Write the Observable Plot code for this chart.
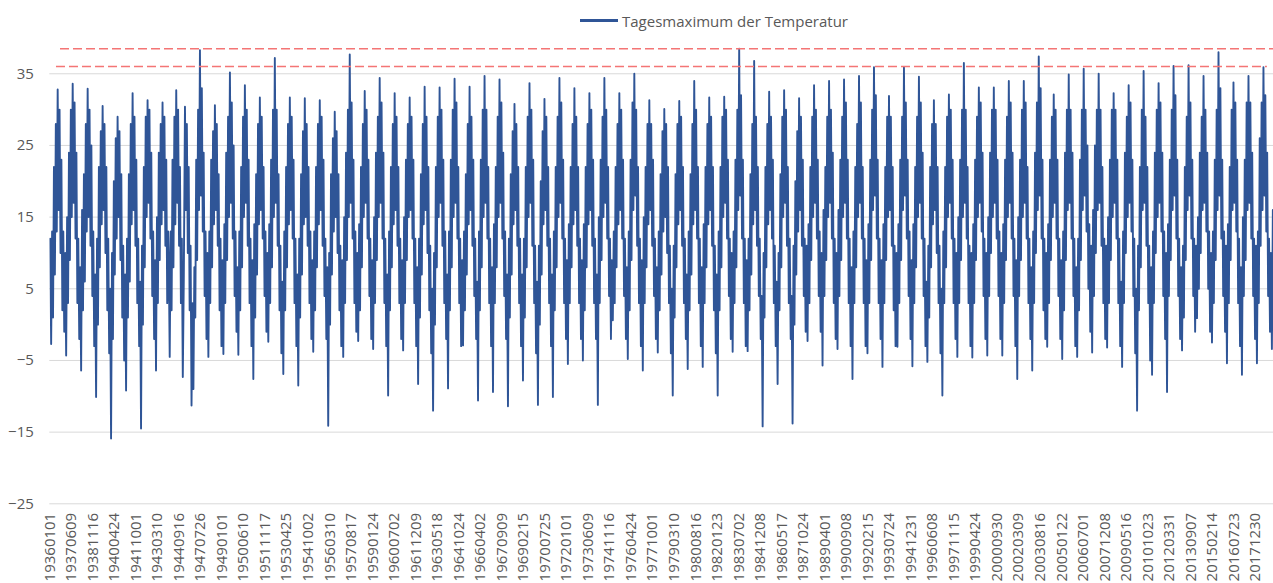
<!DOCTYPE html>
<html>
<head>
<meta charset="utf-8">
<script src="https://cdn.jsdelivr.net/npm/d3@7"></script>
<script src="https://cdn.jsdelivr.net/npm/@observablehq/plot@0.6"></script>
<style>
  html, body { margin: 0; padding: 0; background: #fff; }
  #legend { height: 41px; display: flex; align-items: center; padding-left: 580px; box-sizing: border-box;
            font-family: "Open Sans", sans-serif; font-size: 15px; color: #595959; }
  #legend .sw { display: inline-block; width: 38px; height: 3px; background: #2f5597; margin-right: 4px; }
</style>
</head>
<body>
<div id="legend"><span class="sw"></span><span>Tagesmaximum der Temperatur</span></div>
<div id="chart"></div>
<script>
// Category tick labels (every 525th day of the series)
const tickLabels = ["19360101","19370609","19381116","19400424","19411001","19430310","19440916","19470726","19490101","19500610","19511117","19530425","19541002","19560310","19570817","19590124","19600702","19611209","19630518","19641024","19660402","19670909","19690215","19700725","19720101","19730609","19741116","19760424","19771001","19790310","19800816","19820123","19830702","19841208","19860517","19871024","19890401","19900908","19920215","19930724","19941231","19960608","19971115","19990424","20000930","20020309","20030816","20050122","20060701","20071208","20090516","20101023","20120331","20130907","20150214","20160723","20171230"];
const tickStep = 525;
const yTicks = [-25, -15, -5, 5, 15, 25, 35];

// Day-of-year offsets of the readings taken from each year
const seasonDays = [10, 33, 56, 79, 101, 124, 147, 170, 192, 215, 238, 261, 283, 306, 329, 352];

const years = [1936,1937,1938,1939,1940,1941,1942,1943,1944,1945,1946,1947,1948,1949,1950,1951,1952,1953,1954,1955,1956,1957,1958,1959,1960,1961,1962,1963,1964,1965,1966,1967,1968,1969,1970,1971,1972,1973,1974,1975,1976,1977,1978,1979,1980,1981,1982,1983,1984,1985,1986,1987,1988,1989,1990,1991,1992,1993,1994,1995,1996,1997,1998,1999,2000,2001,2002,2003,2004,2005,2006,2007,2008,2009,2010,2011,2012,2013,2014,2015,2016,2017,2018,2019];

// Daily maximum temperature readings (°C); null = no data
const N = null;
const readings = [
  [12,-2.7,13,1,22,7,28,13,32.8,16,30,10,23,2,13,-1],
  [10,-4.3,15,3,24,9,30,15,33.6,17,31,12,24,3,12,-2],
  [8,-6.4,16,2,21,6,28,13,32.9,15,30,11,25,4,13,-3],
  [7,-10.1,12,0,22,8,27,14,30.5,16,28,10,22,2,12,-4],
  [5,-15.9,10,-2,20,7,26,12,29.0,15,27,9,21,1,11,-5],
  [7,-9.2,12,1,21,6,28,14,32.3,16,29,11,23,3,12,-3],
  [6,-14.5,11,0,22,8,29,15,31.3,17,30,12,24,4,13,-2],
  [9,-6.4,15,3,24,9,28,14,31.0,16,29,11,23,3,13,N],
  [9,-4.5,13,2,23,8,29,14,32.7,17,30,11,22,3,12,-7.3],
  [6,N,N,N,N,N,N,N,N,N,N,N,N,N,N,N],
  [N,N,N,N,N,N,N,N,30.4,16,28,10,22,2,11,-11.3],
  [3,-9.0,8,1,23,9,30,16,38.3,18,33,13,24,4,13,-2],
  [10,-4.5,13,3,23,8,27,14,30.6,16,28,11,21,2,12,-3],
  [9,-4.1,14,3,24,9,29,15,35.2,17,31,12,25,4,13,-1],
  [8,-4.2,13,2,22,8,29,15,33.4,17,30,11,23,3,12,-3],
  [9,-7.6,14,1,21,7,28,14,31.7,16,29,12,22,4,13,-1],
  [10,-2.4,14,3,23,8,30,15,37.2,17,30,11,21,2,11,-4],
  [6,-6.9,13,2,22,8,28,14,31.7,16,29,12,23,3,12,-3],
  [7,-8.5,12,1,21,7,27,14,31.6,15,28,11,22,3,13,-2],
  [9,-3.8,13,2,22,8,28,14,31.3,16,29,11,23,4,12,-2],
  [8,-14.1,10,0,21,7,26,13,29.7,15,27,10,21,2,11,-3],
  [9,-4.5,15,3,24,9,30,15,37.7,17,31,12,23,3,13,-1],
  [10,-2.3,14,2,22,8,28,15,32.6,17,30,12,23,4,12,-2],
  [9,-3.4,15,3,24,9,29,15,34.4,17,31,12,24,3,12,-3],
  [7,-9.9,13,2,22,8,28,14,32.3,16,29,11,22,3,12,-2],
  [9,-3.6,15,3,23,9,28,15,31.7,16,29,12,23,3,12,-3],
  [8,-8.3,12,1,21,7,28,14,33.2,16,29,10,22,2,11,-4],
  [5,-12.0,10,0,22,8,29,15,33.1,17,30,11,23,3,13,-2],
  [7,-8.9,13,2,23,8,30,15,34.3,17,31,12,22,3,12,-3],
  [9,-2.9,13,2,21,7,28,14,33.2,16,29,11,23,4,12,-2],
  [6,-10.6,13,2,23,8,30,15,34.7,17,30,12,22,3,12,-3],
  [8,-9.4,14,3,22,8,29,15,34.2,17,31,12,24,4,13,-2],
  [7,-11.4,12,1,21,7,27,14,30.8,16,28,11,22,3,12,-3],
  [7,-7.8,12,1,22,8,29,15,33.7,17,30,11,23,3,11,-4],
  [6,-11.2,11,0,20,7,27,14,31.5,16,29,11,22,3,12,-3],
  [7,-10.1,13,2,22,8,29,15,34.4,17,31,12,23,3,12,-2],
  [9,-5.5,14,3,22,8,28,14,33.0,16,29,11,22,3,12,-2],
  [9,-5.0,14,2,22,8,28,14,32.3,16,30,11,23,3,12,-2],
  [7,-11.2,15,3,23,9,29,15,34.4,17,30,12,22,4,12,-2],
  [9,0.6,13,3,22,8,28,14,32.3,16,30,12,23,4,12,-2],
  [8,-4.8,13,2,23,9,31,16,35.0,18,30,11,22,3,12,-3],
  [9,-6.4,15,3,22,8,28,14,31.3,16,28,11,23,4,12,-2],
  [8,-3.9,13,2,21,7,27,13,30.1,15,28,10,22,3,11,-4],
  [5,-9.9,11,1,21,8,28,14,31.2,16,29,11,22,3,12,-2],
  [7,-6.2,13,2,21,7,28,14,34.0,16,30,12,22,3,12,-3],
  [8,-5.9,14,3,22,8,28,14,31.7,16,29,11,22,2,11,-4],
  [7,-9.9,13,2,22,8,29,15,31.8,17,30,12,23,4,12,-2],
  [10,-3.8,13,3,23,8,30,16,38.5,18,32,12,23,3,12,-3],
  [9,-3.7,12,2,21,7,28,14,36.8,16,29,11,22,4,12,-2],
  [4,-14.2,10,1,22,8,28,14,32.5,16,29,12,23,3,11,-3],
  [6,-8.3,10,2,21,8,29,15,32.7,17,30,11,22,3,12,-2],
  [4,-13.8,11,0,20,7,27,13,31.6,16,29,11,23,4,12,-1],
  [11,-2.3,14,3,22,9,29,15,33.4,17,30,12,23,4,13,-1],
  [10,-5.7,16,4,22,9,29,15,34.0,17,30,12,24,3,12,-2],
  [10,-3.4,16,4,23,9,29,15,34.2,17,31,12,23,3,12,-3],
  [8,-7.6,13,3,22,8,28,15,34.7,17,31,12,22,3,12,-3],
  [9,-4.0,14,3,23,9,30,16,35.9,18,32,12,23,3,12,-2],
  [9,-5.9,14,3,22,9,29,15,31.9,16,29,11,22,2,11,-3],
  [10,-3.1,14,3,23,9,29,16,35.9,18,31,12,23,4,13,-2],
  [9,-5.8,14,3,22,8,29,15,34.6,17,31,12,24,4,12,-3],
  [6,-5.2,11,1,22,8,28,14,31.3,16,28,10,22,3,11,-4],
  [5,-9.9,13,3,22,8,29,15,32.1,17,30,12,23,3,12,-2],
  [10,-4.5,15,3,23,9,30,15,36.5,17,30,12,22,3,11,-3],
  [10,-4.6,14,3,23,9,29,15,33.1,17,31,13,24,4,12,-2],
  [10,-4.3,15,4,24,10,30,15,33.1,17,30,12,23,4,13,-2],
  [10,-4.3,14,3,23,9,29,15,34.0,17,31,12,24,4,12,-3],
  [9,-7.6,15,4,23,9,30,15,34.0,17,31,12,22,3,12,-2],
  [8,-6.4,13,3,24,10,31,16,37.4,18,33,12,23,2,12,-2],
  [10,-3.1,14,3,23,9,29,15,32.1,17,30,12,23,4,12,-2],
  [9,-4.8,13,2,24,9,30,16,34.9,17,30,12,24,4,12,-3],
  [8,-4.5,12,2,23,9,30,16,35.7,18,30,13,25,5,14,-1],
  [11,-3.9,16,4,25,10,30,16,35.0,17,30,11,22,3,12,-2],
  [11,-3.2,15,3,23,9,30,15,32.3,17,30,12,23,3,12,-3],
  [6,-5.9,13,3,24,10,29,15,33.4,17,31,13,23,4,12,-4],
  [5,-12.0,11,2,22,8,30,16,35.4,17,29,11,22,3,11,-5],
  [8,-7.0,13,3,24,10,30,15,33.7,17,31,13,24,4,13,-2],
  [10,-9.4,14,4,23,9,30,16,36.1,18,32,12,23,4,12,-2],
  [8,-3.6,11,1,22,9,29,16,36.2,18,31,12,23,4,12,-1],
  [11,0.9,15,5,24,10,29,16,34.7,17,30,13,24,5,13,-1],
  [10,-2.5,13,3,23,9,30,16,38.0,18,33,12,23,4,13,-1],
  [11,-5.4,14,3,22,9,30,16,33.8,17,31,13,23,3,12,-3],
  [8,-7.0,15,4,23,9,31,16,34.7,17,31,12,24,4,12,-2],
  [11,-5.4,13,3,26,11,31,16,35.9,18,32,13,24,4,12,-1],
  [10,-3.4,16,4,27,N,N,N,N,N,N,N,N,N,N,N]
];

// Reference lines (°C) drawn as dashed red rules
const refLevels = [38.5, 36];
const refStart = [261, 163];
const refEnd = [29839, 29690];

// Missing-data gaps in the category series: [first missing day number, length]
const gaps = [[2891, 31], [3307, 518]];

const BASE = Date.UTC(1936, 0, 1);
function dayNumber(y, doy) { return Math.round((Date.UTC(y, 0, 1) - BASE) / 864e5) + doy; }
function toIndex(d) {
  let i = d;
  for (const [s, len] of gaps) { if (d >= s + len) i -= len; }
  return i;
}

const series = [];
years.forEach((y, yi) => {
  readings[yi].forEach((v, k) => {
    if (v == null) return;
    series.push({ i: toIndex(dayNumber(y, seasonDays[k])), v });
  });
});

const xTicks = tickLabels.map((_, k) => k * tickStep);
const xMax = 29839;

const refs = refLevels.map((v, k) => ({ v, x1: refStart[k], x2: refEnd[k] }));

const chart = Plot.plot({
  width: 1273,
  height: 542,
  marginLeft: 49.3,
  marginRight: 0,
  marginTop: 3.6,
  marginBottom: 79.7,
  style: { fontFamily: "'Open Sans', sans-serif", fontSize: "15px", color: "#595959", background: "#fff" },
  x: { domain: [0, xMax], ticks: xTicks, tickFormat: d => tickLabels[Math.round(d / tickStep)],
       tickRotate: -90, tickSize: 0, tickPadding: 9, label: null },
  y: { domain: [-25, 39], ticks: yTicks, tickSize: 0, tickPadding: 16, label: null },
  marks: [
    Plot.ruleY(yTicks, { stroke: "#d9d9d9", strokeWidth: 1 }),
    Plot.line(series, { x: "i", y: "v", stroke: "#2f5597", strokeWidth: 1.9, clip: true }),
    Plot.ruleY(refs, { y: "v", x1: "x1", x2: "x2", stroke: "#f47575", strokeWidth: 1.5, strokeDasharray: "9,4" })
  ]
});
document.getElementById("chart").appendChild(chart);
</script>
</body>
</html>
